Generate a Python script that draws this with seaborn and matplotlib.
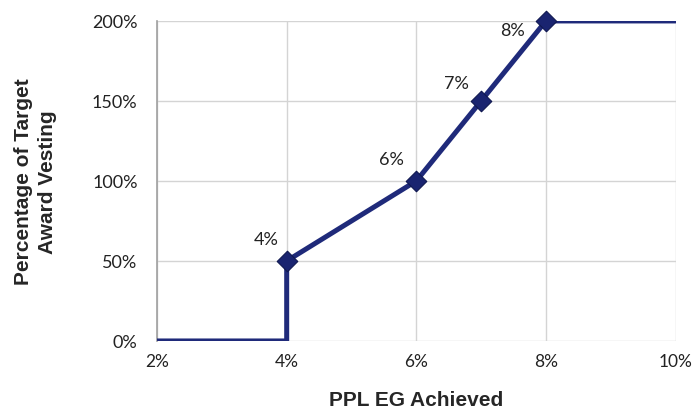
import matplotlib.pyplot as plt
import pandas as pd
import seaborn as sns

# vesting curve
eg_achieved = [2, 4, 4, 6, 7, 8, 10]
vesting_pct = [0, 0, 50, 100, 150, 200, 200]
# labelled points
marker_x = [4, 6, 7, 8]
marker_y = [50, 100, 150, 200]
marker_labels = ["4%", "6%", "7%", "8%"]
label_offsets = [(-20, 22), (-25, 22), (-25, 18), (-33, -9)]  # pixels
x_ticks = [2, 4, 6, 8, 10]
y_ticks = [0, 50, 100, 150, 200]

line_color = "#1f2a7a"

sns.set_style("white")
plt.rcParams['font.family'] = ['Lato', 'DejaVu Sans']

fig = plt.figure(figsize=(6.95, 4.14), dpi=100)
ax = fig.add_axes([0.226, 0.174, 0.746, 0.773])

df = pd.DataFrame({"x": eg_achieved, "y": vesting_pct})
sns.lineplot(data=df, x="x", y="y", sort=False, estimator=None, color=line_color,
             lw=3.6, ax=ax, zorder=3, solid_joinstyle="miter")
pts = pd.DataFrame({"x": marker_x, "y": marker_y})
sns.scatterplot(data=pts, x="x", y="y", marker="D", s=110, color="#1a2470",
                edgecolor="#101850", linewidth=0.8, ax=ax, zorder=4, clip_on=False)

for x, y, lab, off in zip(marker_x, marker_y, marker_labels, label_offsets):
    ax.annotate(lab, (x, y), xytext=off, textcoords="offset pixels",
                ha="center", va="center", fontsize=13, color="#222222")

ax.set_xlim(2, 10)
ax.set_ylim(0, 200)
ax.set_xticks(x_ticks)
ax.set_yticks(y_ticks)
ax.set_xticklabels([f"{t}%" for t in x_ticks], fontsize=12.5, color="#222222")
ax.set_yticklabels([f"{t}%" for t in y_ticks], fontsize=13, color="#222222")
ax.tick_params(axis="y", length=0, pad=14)
ax.tick_params(axis="x", length=0, pad=9)
ax.grid(True, color="#d4d4d4", lw=1)
ax.set_axisbelow(True)
for side in ["top", "right", "bottom"]:
    ax.spines[side].set_visible(False)
ax.spines["left"].set_color("#a0a0a0")
ax.spines["left"].set_linewidth(1.2)

ax.set_xlabel("PPL EG Achieved", fontsize=15, fontweight="bold",
              family="Liberation Sans", labelpad=15)
ax.set_ylabel("Percentage of Target\nAward Vesting", fontsize=15, fontweight="bold",
              family="Liberation Sans", labelpad=25, linespacing=1.35)

fig.savefig("out.png", dpi=100)
plt.close(fig)
